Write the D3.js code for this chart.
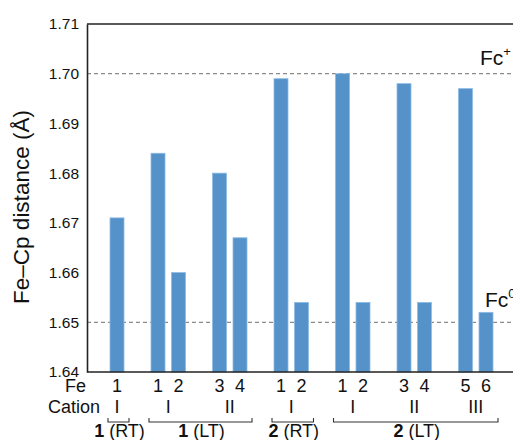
<!DOCTYPE html>
<html>
<head>
<meta charset="utf-8">
<script src="https://cdn.jsdelivr.net/npm/d3@7"></script>
<style>
  body { margin: 0; background: #fff; }
  svg { display: block; font-family: "Liberation Sans", Arial, sans-serif; }
</style>
</head>
<body>
<svg id="chart" width="513" height="440"></svg>
<script>
// ---- data ----
const positions = [0, 2, 3, 5, 6, 8, 9, 11, 12, 14, 15, 17, 18];
const feLabels  = ["1", "1", "2", "3", "4", "1", "2", "1", "2", "3", "4", "5", "6"];
const values    = [1.671, 1.684, 1.660, 1.680, 1.667, 1.699, 1.654, 1.700, 1.654, 1.698, 1.654, 1.697, 1.652];
const cationLabels = ["I", "I", "II", "I", "I", "II", "III"];
const cationPos    = [0, 2.5, 5.5, 8.5, 11.5, 14.5, 17.5];
const groupBold    = ["1", "1", "2", "2"];
const groupText    = [" (RT)", " (LT)", " (RT)", " (LT)"];
const groupStart   = [0, 2, 8, 11];
const groupEnd     = [0, 6, 9, 18];
const yTicks = [1.64, 1.65, 1.66, 1.67, 1.68, 1.69, 1.70, 1.71];
const refLines = [{v: 1.70, label: "Fc", sup: "+"}, {v: 1.65, label: "Fc", sup: "0"}];

// ---- layout ----
(function () {
const svg = d3.select("#chart");
const mLeft = 87, mTop = 24, mBottom = 372, mRight = 540;
const x = d3.scaleLinear().domain([0, 18]).range([117, 486]);
const y = d3.scaleLinear().domain([1.64, 1.71]).range([mBottom, mTop]);
const barW = 14;
const color = "#5592c9";

// reference dashed lines
svg.selectAll("line.ref").data(refLines).join("line")
  .attr("class", "ref")
  .attr("x1", mLeft).attr("x2", mRight)
  .attr("y1", d => y(d.v)).attr("y2", d => y(d.v))
  .attr("stroke", "#8a8a8a").attr("stroke-width", 1.2)
  .attr("stroke-dasharray", "4,3");

// bars
svg.selectAll("rect.bar").data(values).join("rect")
  .attr("class", "bar")
  .attr("x", (d, i) => x(positions[i]) - barW / 2)
  .attr("width", barW)
  .attr("y", d => y(d))
  .attr("height", d => y(1.64) - y(d))
  .attr("fill", color)
  .attr("stroke", "#8dbbe4").attr("stroke-width", 0.8);

// frame
svg.append("line").attr("x1", mLeft).attr("x2", mRight).attr("y1", mTop).attr("y2", mTop)
  .attr("stroke", "#222").attr("stroke-width", 1.6);
svg.append("line").attr("x1", mLeft).attr("x2", mRight).attr("y1", mBottom).attr("y2", mBottom)
  .attr("stroke", "#222").attr("stroke-width", 1.6);

// y axis
const yAxis = d3.axisLeft(y).tickValues(yTicks).tickFormat(d3.format(".2f")).tickSize(0).tickPadding(8);
const gy = svg.append("g").attr("transform", `translate(${mLeft},0)`).call(yAxis);
gy.select(".domain").attr("stroke", "#222").attr("stroke-width", 1.6);
gy.selectAll("text").attr("font-size", 15.5).attr("fill", "#111").attr("font-family", "Liberation Sans, Arial, sans-serif");

// y label
svg.append("text")
  .attr("transform", `translate(29,207) rotate(-90)`)
  .attr("text-anchor", "middle")
  .attr("font-size", 22.5).attr("fill", "#111")
  .text("Fe\u2013Cp distance (\u00C5)");

// ref labels
refLines.forEach((r, i) => {
  const t = svg.append("text")
    .attr("x", i === 0 ? 480 : 485)
    .attr("y", y(r.v) - (i === 0 ? 9 : 15))
    .attr("font-size", 21).attr("fill", "#111");
  t.append("tspan").text(r.label);
  t.append("tspan").attr("dy", -9).attr("font-size", 13).text(r.sup);
});

// Fe row
svg.append("text").attr("x", 86).attr("y", 392).attr("text-anchor", "end")
  .attr("font-size", 18).attr("fill", "#111").text("Fe");
svg.selectAll("text.fe").data(feLabels).join("text")
  .attr("class", "fe")
  .attr("x", (d, i) => x(positions[i]))
  .attr("y", 392).attr("text-anchor", "middle")
  .attr("font-size", 18).attr("fill", "#111").text(d => d);

// Cation row
svg.append("text").attr("x", 100).attr("y", 413).attr("text-anchor", "end")
  .attr("font-size", 18).attr("fill", "#111").text("Cation");
svg.selectAll("text.cat").data(cationLabels).join("text")
  .attr("class", "cat")
  .attr("x", (d, i) => x(cationPos[i]))
  .attr("y", 413).attr("text-anchor", "middle")
  .attr("font-size", 18).attr("fill", "#111").text(d => d);

// brackets
const by = 422;
groupStart.forEach((s, i) => {
  const x1 = x(s) - 9, x2 = x(groupEnd[i]) + 12;
  svg.append("path")
    .attr("d", `M${x1},${by - 4}V${by}H${x2}V${by - 4}`)
    .attr("fill", "none").attr("stroke", "#333").attr("stroke-width", 1.1);
  const t = svg.append("text")
    .attr("x", (x1 + x2) / 2 + 1).attr("y", 437)
    .attr("text-anchor", "middle").attr("font-size", 18).attr("fill", "#111");
  t.append("tspan").attr("font-weight", "bold").text(groupBold[i]);
  t.append("tspan").text(groupText[i]);
});
})();
</script>
</body>
</html>
